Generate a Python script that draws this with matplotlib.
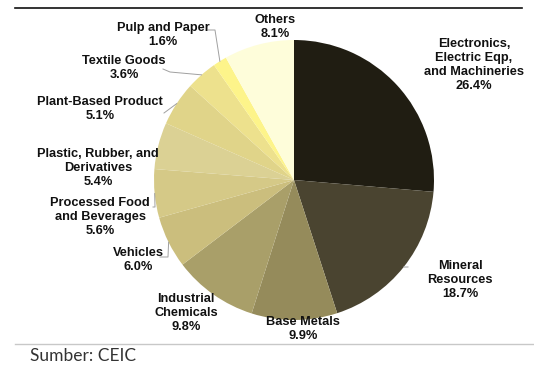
import numpy as np
import matplotlib.pyplot as plt

# data
categories = ['Electronics,\nElectric Eqp,\nand Machineries', 'Mineral\nResources', 'Base Metals',
              'Industrial\nChemicals', 'Vehicles', 'Processed Food\nand Beverages',
              'Plastic, Rubber, and\nDerivatives', 'Plant-Based Product', 'Textile Goods',
              'Pulp and Paper', 'Others']
shares = [26.4, 18.7, 9.9, 9.8, 6.0, 5.6, 5.4, 5.1, 3.6, 1.6, 8.1]
colors = ['#201d12', '#4a4430', '#958b5b', '#a99f69', '#cbbe7d', '#d5c987',
          '#dbd194', '#e0d489', '#ede18d', '#fdf48a', '#fefdda']

W, H = 534, 365
CX, CY, R = 294, 180, 140  # pie centre / radius in pixels


def px(x, y):
    # pixel (from top-left) -> data units of the pie axes
    return (x - CX) / R, (CY - y) / R


# label block centres (pixels) and leader elbows
label_pos = [(474, 65), (460, 280), (303, 329), (186, 313), (138, 260), (100, 217),
             (98, 168), (100, 109), (124, 68), (163, 35), (275, 27)]
leaders = {1: [(408, 267)], 4: [(160, 257), (168, 257)], 5: [(153, 207), (155, 207)],
           7: [(164, 113)], 8: [(163, 69), (170, 72)], 9: [(208, 30), (215, 30)]}

fig = plt.figure(figsize=(W / 100, H / 100), dpi=100)
ax = fig.add_axes([0, 0, 1, 1])

wedges, _ = ax.pie(shares, colors=colors, startangle=90, counterclock=False,
                   radius=1, wedgeprops=dict(linewidth=0), normalize=True)
ax.set_xlim(-CX / R, (W - CX) / R)
ax.set_ylim(-(H - CY) / R, CY / R)
ax.axis('off')

for i, (lab, val) in enumerate(zip(categories, shares)):
    x, y = px(*label_pos[i])
    ax.text(x, y, f'{lab}\n{val:.1f}%', ha='center', va='center', fontsize=9.2,
            fontweight='bold', family='Liberation Sans', linespacing=1.24, color='#111111')
    if i in leaders:
        w = wedges[i]
        mid = np.deg2rad((w.theta1 + w.theta2) / 2)
        pts = [px(*p) for p in leaders[i]] + [(np.cos(mid), np.sin(mid))]
        ax.plot([p[0] for p in pts], [p[1] for p in pts], color='#a0a0a0', lw=0.7)

# frame lines and source
fig.add_artist(plt.Line2D([15 / W, 522 / W], [1 - 8 / H, 1 - 8 / H], color='#111111', lw=1.2))
fig.add_artist(plt.Line2D([15 / W, 1], [1 - 344 / H, 1 - 344 / H], color='#c8c8c8', lw=1))
fig.text(30 / W, 1 - 356 / H, 'Sumber: CEIC', fontsize=12.5, family='Lato', color='#333333',
         va='center', ha='left')

fig.savefig('out.png', dpi=100)
